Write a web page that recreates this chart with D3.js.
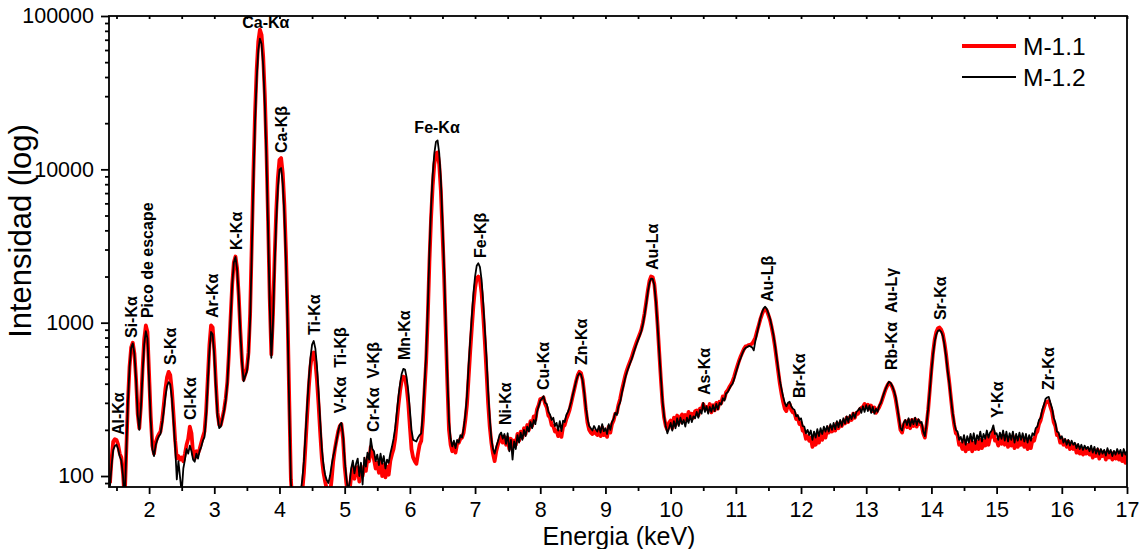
<!DOCTYPE html>
<html>
<head>
<meta charset="utf-8">
<script src="https://cdn.jsdelivr.net/npm/d3@7"></script>
<style>
  body { margin: 0; background: #fff; }
  svg { display: block; font-family: "Liberation Sans", Arial, sans-serif; }
</style>
</head>
<body>
<svg id="chart" width="1143" height="549"></svg>
<script>
// Spectrum channels: 0.025 keV apart, one row per 0.5 keV starting at 1.40 keV
const energyStart = 1.40, energyStep = 0.025, rowSpan = 0.5;

// M-1.1 counts
const m11Rows = [
  [90,130,168,174,172,160,140,132,104,70,145,305,515,690,740,630,430,255,205,290],
  [500,780,960,870,460,245,158,140,165,178,188,195,230,290,370,440,478,455,360,250],
  [170,130,135,128,132,125,140,160,175,210,190,140,130,145,140,150,165,180,195,265],
  [430,710,960,930,665,400,260,215,215,240,270,320,410,640,1070,1780,2480,2700,2260,1500],
  [880,560,425,460,500,640,1150,3300,9500,23200,44600,68300,81500,75500,54600,30700,13400,4600,1450,620],
  [1120,2620,5300,8750,11550,11850,9450,5870,2840,1070,310,95,66,60,58,56,60,68,80,105],
  [160,250,380,520,620,640,560,420,290,190,130,105,92,82,74,76,95,125,150,172],
  [195,212,218,175,115,90,76,80,100,115,96,108,114,92,110,100,116,108,132,125],
  [155,140,128,112,122,105,128,100,118,98,115,102,125,138,150,175,225,290,360,420],
  [445,440,380,300,210,150,132,125,120,140,160,170,230,360,560,1100,2500,4800,7800,10800],
  [12700,12900,10800,7300,3900,2000,900,400,200,160,145,158,142,162,165,175,178,192,230,290],
  [430,640,920,1300,1680,1950,2000,1900,1560,1120,750,480,300,210,165,140,125,145,160,172],
  [182,165,180,160,178,150,175,155,170,160,188,170,195,178,205,188,215,200,228,212],
  [245,232,272,290,318,320,325,295,280,248,240,215,212,195,198,182,195,180,210,215],
  [235,250,270,300,335,372,415,455,478,470,425,345,270,222,200,192,188,196,190,185],
  [200,182,208,185,195,180,210,192,218,230,255,258,292,318,360,400,445,485,520,555],
  [590,640,690,740,790,840,900,1000,1150,1360,1620,1870,2000,1980,1790,1380,960,640,430,300],
  [240,212,200,222,230,205,240,215,248,222,242,252,228,250,232,262,238,255,240,265],
  [268,248,275,272,295,278,282,270,295,260,290,268,300,275,305,298,330,320,352,362],
  [380,395,415,445,485,525,565,605,640,675,700,705,715,720,730,760,800,880,960,1050],
  [1130,1200,1220,1200,1120,1040,930,820,700,580,480,400,345,305,275,265,290,295,270,260],
  [258,235,240,218,222,198,195,175,182,170,178,155,178,160,185,165,190,172,195,178],
  [200,192,210,195,208,198,220,205,222,212,228,220,240,225,242,232,255,240,258,255],
  [272,278,282,295,285,292,275,288,265,280,258,270,282,298,320,345,370,390,405,398],
  [380,355,320,275,235,200,192,215,228,208,230,205,232,212,235,210,230,218,215,190],
  [178,215,270,365,495,640,775,870,920,930,900,845,740,620,495,405,320,255,215,190],
  [185,160,162,150,168,145,160,150,175,145,165,150,168,150,172,152,170,158,180,160],
  [178,180,198,170,172,158,178,162,185,160,180,155,175,158,182,152,172,155,178,160],
  [175,155,175,150,170,152,172,170,188,195,218,230,255,278,300,305,308,282,262,225],
  [212,185,185,165,175,160,170,155,168,150,162,150,160,142,155,140,150,138,148,140],
  [150,138,148,132,145,135,148,130,145,135,142,128,145,132,140,128,142,130,140,128],
  [138,125,140,122,138]
];

// M-1.2 counts
const m12Rows = [
  [86,118,148,157,160,150,134,126,100,68,143,302,510,685,733,625,425,250,200,280],
  [470,725,880,790,420,230,150,135,158,172,182,188,220,265,330,385,410,395,320,225],
  [155,95,125,98,78,112,128,150,140,158,145,128,124,140,130,146,155,170,180,245],
  [400,650,870,840,605,370,245,205,210,235,265,310,400,630,1065,1775,2470,2680,2230,1490],
  [870,550,415,450,480,600,1040,2900,8300,20300,39000,59700,71150,66000,47700,26800,11750,4010,1300,590],
  [1000,2300,4600,7550,9950,10200,8140,5060,2450,925,272,90,65,60,58,60,66,78,95,125],
  [190,290,430,590,720,760,680,520,350,225,150,118,102,94,90,100,118,135,150,170],
  [195,215,222,185,128,98,80,90,112,126,104,120,130,100,122,88,132,115,142,128],
  [175,150,145,125,138,118,140,120,135,112,128,122,140,155,175,205,260,330,400,465],
  [500,495,440,360,270,200,172,170,168,178,185,190,260,400,620,1250,2900,5600,9200,12700],
  [15100,15450,12800,8600,4600,2300,1000,450,230,175,156,170,152,172,165,185,178,205,250,330],
  [520,760,1100,1550,2000,2350,2440,2300,1900,1350,900,600,360,240,175,150,140,155,168,185],
  [192,175,188,162,190,145,172,128,168,150,185,165,192,172,200,182,210,195,225,205],
  [232,218,262,285,310,318,332,300,295,262,252,232,240,212,222,198,228,196,230,225],
  [250,262,280,305,340,375,415,450,468,460,420,350,280,235,212,205,198,212,202,195],
  [212,192,218,196,205,188,218,200,225,236,258,250,285,302,345,385,430,470,505,540],
  [575,620,670,720,770,820,880,980,1120,1320,1580,1820,1940,1930,1750,1350,950,640,440,310],
  [245,212,190,205,222,198,228,205,238,212,240,218,232,210,240,222,248,225,245,238],
  [262,240,270,255,300,262,285,255,282,262,290,265,295,272,300,292,322,310,345,352],
  [370,388,400,430,470,510,555,590,630,665,685,695,705,700,690,660,760,850,950,1060],
  [1160,1240,1270,1230,1150,1060,950,840,720,600,500,420,370,330,300,285,300,305,285,275],
  [270,245,250,232,238,212,210,190,200,185,198,172,195,178,202,182,205,188,210,195],
  [212,195,218,200,222,202,228,208,232,212,238,220,245,225,250,235,258,240,262,268],
  [278,258,285,262,290,265,288,258,282,255,275,262,288,300,325,350,372,395,412,405],
  [385,360,330,285,242,205,198,222,232,215,238,212,235,218,240,215,235,222,225,195],
  [182,220,275,360,480,620,750,840,885,895,870,820,720,600,480,400,320,260,222,200],
  [195,172,180,165,185,160,182,165,188,168,190,162,185,172,195,168,188,175,198,178],
  [192,198,214,188,190,172,192,175,198,170,195,168,190,172,195,165,188,170,192,172],
  [190,168,188,165,185,170,190,185,205,210,232,240,270,290,318,325,328,300,278,240],
  [225,195,192,175,182,165,175,160,172,158,170,160,165,152,162,150,160,148,158,150],
  [155,145,158,142,155,140,152,138,150,140,148,136,152,140,148,135,146,138,150,140],
  [148,135,150,138,146]
];

const seriesNames = ["M-1.1", "M-1.2"];
const seriesColors = ["#ff0000", "#000000"];

const xMajorTicks = [2,3,4,5,6,7,8,9,10,11,12,13,14,15,16,17];
const xMinorTicks = [1.5,2.5,3.5,4.5,5.5,6.5,7.5,8.5,9.5,10.5,11.5,12.5,13.5,14.5,15.5,16.5];
const yMajorTicks = [100, 1000, 10000, 100000];
const yMinorTicks = [90,200,300,400,500,600,700,800,900,2000,3000,4000,5000,6000,7000,8000,9000,
                     20000,30000,40000,50000,60000,70000,80000,90000];

// Emission line annotations: energy (keV), intensity where the text starts, orientation
const lineLabels = [
  ["Al-Kα", 1.525, 185, "v"],
  ["Si-Kα", 1.724, 794, "v"],
  ["Pico de escape", 1.969, 1072, "v"],
  ["S-Kα", 2.322, 530, "v"],
  ["Cl-Kα", 2.629, 232, "v"],
  ["Ar-Kα", 2.966, 1072, "v"],
  ["K-Kα", 3.334, 2978, "v"],
  ["Ca-Kα", 3.79, 83500, "h"],
  ["Ca-Kβ", 4.025, 12770, "v"],
  ["Ti-Kα", 4.531, 831, "v"],
  ["V-Kα  Ti-Kβ", 4.929, 257, "v"],
  ["Cr-Kα  V-Kβ", 5.436, 194, "v"],
  ["Mn-Kα", 5.911, 570, "v"],
  ["Fe-Kα", 6.417, 17260, "h"],
  ["Fe-Kβ", 7.077, 2640, "v"],
  ["Ni-Kα", 7.46, 215, "v"],
  ["Cu-Kα", 8.043, 364, "v"],
  ["Zn-Kα", 8.626, 530, "v"],
  ["Au-Lα", 9.715, 2205, "v"],
  ["As-Kα", 10.51, 337, "v"],
  ["Au-Lβ", 11.48, 1364, "v"],
  ["Br-Kα", 11.975, 323, "v"],
  ["Rb-Kα  Au-Lγ", 13.38, 491, "v"],
  ["Sr-Kα", 14.13, 1040, "v"],
  ["Y-Kα", 15.006, 239, "v"],
  ["Zr-Kα", 15.80, 364, "v"]
];

const plot = { left: 109, right: 1127, top: 16, bottom: 487 };

const svg = d3.select("#chart");

const x = d3.scaleLinear().domain([1.385, 17]).range([plot.left, plot.right]);
const y = d3.scaleLog().domain([84.8, 100000]).range([plot.bottom, plot.top]);

const toPoints = rows => rows.flatMap((row, r) =>
  row.map((v, j) => ({ e: energyStart + r * rowSpan + j * energyStep, v })));

const series = [toPoints(m11Rows), toPoints(m12Rows)];

svg.append("defs").append("clipPath").attr("id", "plotClip")
  .append("rect")
  .attr("x", plot.left).attr("y", plot.top)
  .attr("width", plot.right - plot.left).attr("height", plot.bottom - plot.top);

const line = d3.line()
  .x(d => x(d.e))
  .y(d => y(d.v));

const lineWidths = [3.8, 1.8];
const lines = svg.append("g").attr("clip-path", "url(#plotClip)");
series.forEach((pts, i) => {
  lines.append("path")
    .datum(pts)
    .attr("fill", "none")
    .attr("stroke", seriesColors[i])
    .attr("stroke-width", lineWidths[i])
    .attr("stroke-linejoin", "round")
    .attr("d", line);
});

// Axes
const axisStroke = 1.8;
const styleAxis = g => {
  g.select(".domain").remove();
  g.selectAll(".tick line").attr("stroke", "#000").attr("stroke-width", axisStroke);
  g.selectAll(".tick text").attr("fill", "#000").style("font-size", "21.5px")
    .style("font-family", "'Liberation Sans', Arial, sans-serif");
};

svg.append("g")
  .attr("transform", `translate(0,${plot.bottom})`)
  .call(d3.axisBottom(x).tickValues(xMajorTicks).tickFormat(d3.format("d")).tickSize(7).tickPadding(8))
  .call(styleAxis);
svg.append("g")
  .attr("transform", `translate(0,${plot.bottom})`)
  .call(d3.axisBottom(x).tickValues(xMinorTicks).tickFormat("").tickSize(4))
  .call(styleAxis);

svg.append("g")
  .attr("transform", `translate(0,${plot.top})`)
  .call(d3.axisBottom(x).tickValues(xMajorTicks.concat(xMinorTicks)).tickFormat("").tickSize(3))
  .call(styleAxis);

svg.append("g")
  .attr("transform", `translate(${plot.left},0)`)
  .call(d3.axisLeft(y).tickValues(yMajorTicks).tickFormat(d3.format("d")).tickSize(8).tickPadding(7))
  .call(styleAxis);
svg.append("g")
  .attr("transform", `translate(${plot.left},0)`)
  .call(d3.axisLeft(y).tickValues(yMinorTicks).tickFormat("").tickSize(4))
  .call(styleAxis);

// Frame
svg.append("rect")
  .attr("x", plot.left).attr("y", plot.top)
  .attr("width", plot.right - plot.left).attr("height", plot.bottom - plot.top)
  .attr("fill", "none").attr("stroke", "#000").attr("stroke-width", axisStroke);

// Axis titles
svg.append("text")
  .attr("x", (plot.left + plot.right) / 2 + 1).attr("y", 545)
  .attr("text-anchor", "middle")
  .style("font-size", "25px")
  .text("Energia (keV)");

svg.append("text")
  .attr("transform", `translate(31,231) rotate(-90)`)
  .attr("text-anchor", "middle")
  .style("font-size", "31px")
  .text("Intensidad (log)");

// Line annotations
const labels = svg.append("g")
  .style("font-size", "16px").style("font-weight", "bold").attr("fill", "#000");
lineLabels.forEach(([txt, e, v, o]) => {
  if (o === "h") {
    labels.append("text")
      .attr("x", x(e)).attr("y", y(v))
      .attr("text-anchor", "middle")
      .text(txt);
  } else {
    labels.append("text")
      .attr("transform", `translate(${x(e)},${y(v)}) rotate(-90)`)
      .attr("dy", "0.35em")
      .attr("text-anchor", "start")
      .style("white-space", "pre")
      .text(txt);
  }
});

// Legend
const legend = svg.append("g");
seriesNames.forEach((name, i) => {
  const ly = 46 + i * 31;
  legend.append("line")
    .attr("x1", 962).attr("x2", 1016).attr("y1", ly).attr("y2", ly)
    .attr("stroke", seriesColors[i]).attr("stroke-width", lineWidths[i] + 0.4);
  legend.append("text")
    .attr("x", 1023).attr("y", ly + 9)
    .style("font-size", "24.5px")
    .text(name);
});
</script>
</body>
</html>
